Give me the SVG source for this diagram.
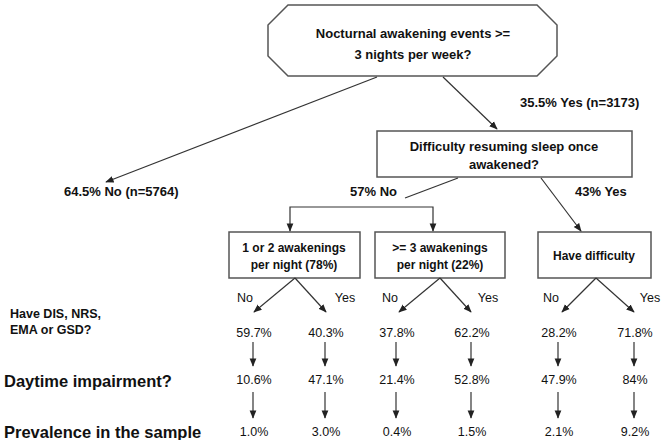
<svg xmlns="http://www.w3.org/2000/svg" width="664" height="440" viewBox="0 0 664 440">
<style>
text{font-family:"Liberation Sans",Arial,sans-serif;fill:#111}
.b{font-weight:bold;font-size:13px}
.s{font-size:12px}
.L{font-size:16.5px}
.m{font-size:12.5px}
.n{font-size:12.5px}
.bx{fill:#fff;stroke:#555;stroke-width:1.5}
.c line,.c path{stroke:#333;stroke-width:1.2;fill:none}
</style>
<defs><marker id="a" viewBox="0 0 10 10" refX="9" refY="5" markerWidth="7" markerHeight="7" orient="auto"><path d="M0,1 L10,5 L0,9z" fill="#222"/></marker></defs>
<rect width="664" height="440" fill="#fff"/>
<g id="n1"><polygon class="bx" points="288,5 537,5 557,25 557,56 537,76 288,76 268,56 268,25"/>
<text class="b" x="413" y="38" text-anchor="middle">Nocturnal awakening events &gt;=</text>
<text class="b" x="413" y="59" text-anchor="middle">3 nights per week?</text></g>
<g id="n2"><rect class="bx" x="377" y="131" width="255" height="46"/>
<text class="b" x="504" y="151" text-anchor="middle">Difficulty resuming sleep once</text>
<text class="b" x="504" y="169" text-anchor="middle">awakened?</text></g>
<g id="n3"><rect class="bx" x="229" y="232" width="131" height="46"/>
<text class="b s" x="294" y="252" text-anchor="middle">1 or 2 awakenings</text>
<text class="b s" x="294" y="269" text-anchor="middle">per night (78%)</text></g>
<g id="n4"><rect class="bx" x="375" y="232" width="130" height="46"/>
<text class="b s" x="440" y="252" text-anchor="middle">&gt;= 3 awakenings</text>
<text class="b s" x="440" y="269" text-anchor="middle">per night (22%)</text></g>
<g id="n5"><rect class="bx" x="538" y="232" width="113" height="46"/>
<text class="b s" x="594" y="260" text-anchor="middle">Have difficulty</text></g>
<g class="c" id="connectors">
<line x1="377" y1="77" x2="106" y2="182" marker-end="url(#a)"/>
<line x1="443" y1="77" x2="497" y2="129" marker-end="url(#a)"/>
<line x1="458" y1="178" x2="405" y2="198"/>
<path d="M362,207 H290 V231" marker-end="url(#a)"/>
<path d="M362,207 H433 V231" marker-end="url(#a)"/>
<line x1="541" y1="178" x2="581" y2="231" marker-end="url(#a)"/>
<line x1="295" y1="278" x2="254" y2="312" marker-end="url(#a)"/>
<line x1="295" y1="278" x2="326" y2="312" marker-end="url(#a)"/>
<line x1="440" y1="278" x2="399" y2="312" marker-end="url(#a)"/>
<line x1="440" y1="278" x2="471" y2="312" marker-end="url(#a)"/>
<line x1="596" y1="278" x2="562" y2="312" marker-end="url(#a)"/>
<line x1="596" y1="278" x2="634" y2="312" marker-end="url(#a)"/>
<g marker-end="url(#a)">
<line x1="253" y1="342" x2="253" y2="366"/><line x1="325" y1="342" x2="325" y2="366"/>
<line x1="396" y1="342" x2="396" y2="366"/><line x1="471" y1="342" x2="471" y2="366"/>
<line x1="558" y1="342" x2="558" y2="366"/><line x1="634" y1="342" x2="634" y2="366"/>
<line x1="253" y1="392" x2="253" y2="418"/><line x1="325" y1="392" x2="325" y2="418"/>
<line x1="396" y1="392" x2="396" y2="418"/><line x1="471" y1="392" x2="471" y2="418"/>
<line x1="558" y1="392" x2="558" y2="418"/><line x1="634" y1="392" x2="634" y2="418"/>
</g>
</g>
<g id="labels">
<text class="b" x="64" y="196">64.5% No (n=5764)</text>
<text class="b" x="520" y="107">35.5% Yes (n=3173)</text>
<text class="b" x="350" y="196">57% No</text>
<text class="b" x="575" y="196">43% Yes</text>
<g class="n" text-anchor="middle">
<text x="245" y="302">No</text><text x="345" y="302">Yes</text>
<text x="390" y="302">No</text><text x="488" y="302">Yes</text>
<text x="551" y="302">No</text><text x="650" y="302">Yes</text>
<text x="254" y="337">59.7%</text><text x="326" y="337">40.3%</text>
<text x="397" y="337">37.8%</text><text x="472" y="337">62.2%</text>
<text x="559" y="337">28.2%</text><text x="635" y="337">71.8%</text>
<text x="254" y="384">10.6%</text><text x="326" y="384">47.1%</text>
<text x="397" y="384">21.4%</text><text x="472" y="384">52.8%</text>
<text x="559" y="384">47.9%</text><text x="635" y="384">84%</text>
<text x="254" y="436">1.0%</text><text x="326" y="436">3.0%</text>
<text x="397" y="436">0.4%</text><text x="472" y="436">1.5%</text>
<text x="559" y="436">2.1%</text><text x="635" y="436">9.2%</text>
</g>
<text class="b m" x="10" y="318">Have DIS, NRS,</text>
<text class="b m" x="10" y="334">EMA or GSD?</text>
<text class="b L" x="4" y="387">Daytime impairment?</text>
<text class="b L" x="4" y="438">Prevalence in the sample</text>
</g>
</svg>
